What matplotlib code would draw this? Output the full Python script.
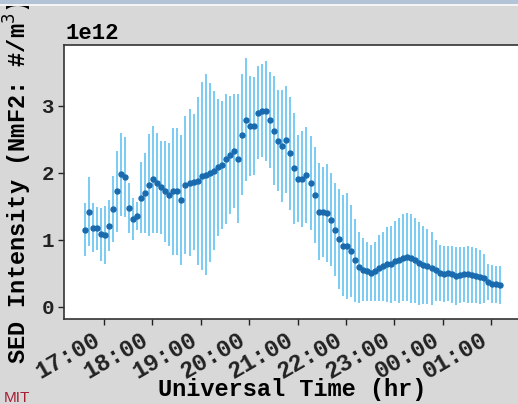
import matplotlib
matplotlib.use("Agg")
import matplotlib.pyplot as plt
import numpy as np

# ---- data (hours UT, 5-minute cadence starting 16:36) ----
start_hour = 16 + 36 / 60
step_min = 5

sed_mean = [
    1.15, 1.42, 1.18, 1.17, 1.08, 1.07, 1.21, 1.46, 1.72, 1.98,
    1.94, 1.47, 1.31, 1.36, 1.63, 1.70, 1.82, 1.90, 1.85, 1.78,
    1.72, 1.67, 1.72, 1.72, 1.59, 1.82, 1.85, 1.86, 1.88, 1.95,
    1.97, 2.00, 2.03, 2.08, 2.12, 2.20, 2.27, 2.32, 2.21, 2.57,
    2.79, 2.70, 2.70, 2.90, 2.93, 2.92, 2.79, 2.63, 2.48, 2.40,
    2.49, 2.29, 2.07, 1.91, 1.91, 1.97, 1.85, 1.67, 1.42, 1.41,
    1.40, 1.30, 1.15, 1.01, 0.91, 0.90, 0.83, 0.69, 0.59, 0.55,
    0.53, 0.50, 0.53, 0.58, 0.60, 0.63, 0.63, 0.68, 0.69, 0.73,
    0.74, 0.72, 0.69, 0.65, 0.62, 0.60, 0.57, 0.54, 0.50, 0.49,
    0.50, 0.48, 0.46, 0.47, 0.48, 0.48, 0.47, 0.46, 0.44, 0.42,
    0.37, 0.34, 0.33, 0.32,
]
sed_err = [
    0.40, 0.52, 0.37, 0.32, 0.40, 0.44, 0.38, 0.49, 0.60, 0.62,
    0.60, 0.37, 0.32, 0.21, 0.53, 0.60, 0.76, 0.80, 0.75, 0.70,
    0.76, 0.77, 0.95, 0.95, 0.97, 1.03, 1.10, 1.02, 1.26, 1.40,
    1.50, 1.34, 1.19, 1.03, 0.96, 0.97, 0.88, 0.85, 0.96, 0.90,
    0.92, 0.75, 0.73, 0.69, 0.69, 0.75, 0.72, 0.82, 0.76, 0.83,
    0.80, 0.85, 0.83, 0.65, 0.72, 0.72, 0.70, 0.72, 0.72, 0.67,
    0.73, 0.69, 0.70, 0.75, 0.75, 0.79, 0.69, 0.62, 0.53, 0.47,
    0.44, 0.42, 0.44, 0.49, 0.52, 0.56, 0.58, 0.60, 0.63, 0.65,
    0.66, 0.66, 0.64, 0.62, 0.58, 0.56, 0.55, 0.46, 0.42, 0.42,
    0.41, 0.42, 0.43, 0.42, 0.41, 0.42, 0.42, 0.41, 0.40, 0.36,
    0.27, 0.28, 0.28, 0.28,
]
scale = 1e12

tick_hours = [17, 18, 19, 20, 21, 22, 23, 24, 25]
tick_labels = ["17:00", "18:00", "19:00", "20:00", "21:00",
               "22:00", "23:00", "00:00", "01:00"]
y_ticks = [0, 1, 2, 3]

# ---- figure ----
W, H = 518, 404
fig = plt.figure(figsize=(W / 100, H / 100), dpi=100)
fig.patch.set_facecolor("#d8d8d8")

font = dict(family=["Liberation Mono", "DejaVu Sans Mono"], weight="bold")

# top window strip
fig.patches.append(plt.Rectangle((0, 1 - 4 / H), 1, 4 / H, transform=fig.transFigure,
                                 facecolor="#b3c4d8", edgecolor="none"))
fig.patches.append(plt.Rectangle((0, 1 - 6 / H), 1, 2 / H, transform=fig.transFigure,
                                 facecolor="#f4f4f4", edgecolor="none"))

left, right, top, bottom = 63.5, 520, 45, 318.5
ax = fig.add_axes([left / W, 1 - bottom / H, (right - left) / W, (bottom - top) / H])
ax.set_facecolor("white")

t = start_hour + np.arange(len(sed_mean)) * step_min / 60
m = np.array(sed_mean) * scale
e = np.array(sed_err) * scale

ax.errorbar(t, m, yerr=e, fmt="o", color="#1a6aae", ecolor="#55bdf0",
            elinewidth=1.1, markersize=3.6, capsize=0)

ax.set_xlim(16.163, 17 + (right - 104) / 48.4)
ax.set_ylim(-0.179 * scale, 3.91 * scale)

ax.set_xticks(tick_hours)
ax.set_xticklabels(tick_labels, rotation=30, ha="right", fontsize=17, **font)
ax.set_yticks([v * scale for v in y_ticks])
ax.set_yticklabels([str(v) for v in y_ticks], fontsize=15, **font)
ax.tick_params(direction="out", length=4, width=1, colors="#222222", pad=3)
for s in ax.spines.values():
    s.set_color("#333333")
    s.set_linewidth(1.2)

ax.text(0.004, 1.004, "1e12", transform=ax.transAxes, ha="left", va="bottom",
        fontsize=16, **font)

ax.set_xlabel("Universal Time (hr)", fontsize=17, labelpad=-4, **font)
ax.set_ylabel("SED Intensity (NmF2: #/m$^3$)", fontsize=17, labelpad=5, **font)

fig.text(4 / W, 1 - 391 / H, "MIT", color="#a31f34", fontsize=11,
         ha="left", va="top", family="Liberation Sans")

fig.savefig("out.png", dpi=100, facecolor=fig.get_facecolor())
